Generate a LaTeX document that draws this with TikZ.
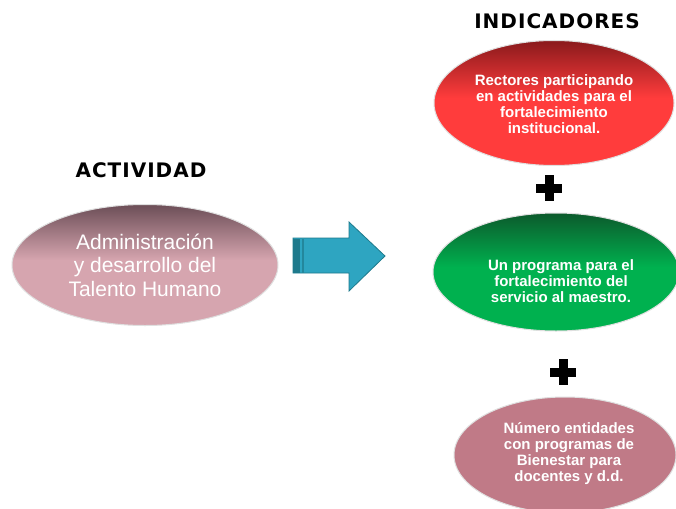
\documentclass[tikz,border=0pt]{standalone}
\usepackage{fontspec}
\setmainfont{Liberation Sans}
\newfontfamily\titlefont[LetterSpace=5]{DejaVu Sans Bold}
\usetikzlibrary{shapes.geometric}
\definecolor{redbody}{HTML}{FF3C3C}
\definecolor{redtop}{HTML}{8A1A1C}
\definecolor{greenbody}{HTML}{00B14F}
\definecolor{greentop}{HTML}{0C5A2C}
\definecolor{pinkbody}{HTML}{D6A5AF}
\definecolor{pinktop}{HTML}{6C4E57}
\definecolor{mauve}{HTML}{C07A87}
\definecolor{arrowbody}{HTML}{2EA5C1}
\definecolor{arrowdark}{HTML}{1E7A8C}
\pgfdeclareverticalshading{redshade}{100bp}{color(0bp)=(redbody); color(25bp)=(redbody); color(52bp)=(redbody); color(75bp)=(redtop); color(100bp)=(redtop)}
\pgfdeclareverticalshading{greenshade}{100bp}{color(0bp)=(greenbody); color(25bp)=(greenbody); color(52bp)=(greenbody); color(75bp)=(greentop); color(100bp)=(greentop)}
\pgfdeclareverticalshading{pinkshade}{100bp}{color(0bp)=(pinkbody); color(25bp)=(pinkbody); color(52bp)=(pinkbody); color(75bp)=(pinktop); color(100bp)=(pinktop)}
\tikzset{
  oval/.style={ellipse, draw=gray!25, line width=1pt, inner sep=0pt, text=white, align=center},
  titletext/.style={font=\titlefont\fontsize{20}{22}\selectfont, text=black},
  indtext/.style={font=\bfseries\fontsize{15}{16}\selectfont, text=white, align=center},
  plusbar/.style={fill=black, draw=none},
}
\begin{document}
\begin{tikzpicture}[x=1pt,y=-1pt]
\useasboundingbox (0,0) rectangle (676,508);
\fill[white] (0,0) rectangle (676,508);
% titles
\node[titletext] (tact) at (141,170) {ACTIVIDAD};
\node[titletext] (tind) at (557,21) {INDICADORES};
% activity ellipse
\node[oval, minimum width=266pt, minimum height=121pt, shading=pinkshade, font=\fontsize{21}{23.5}\selectfont] (act) at (145,265) {Administración\\y desarrollo del\\Talento Humano};
% arrow
\path[fill=arrowbody, draw=arrowdark, line width=0.8pt]
  (293,238) -- (349,238) -- (349,222) -- (385,256) -- (349,291) -- (349,273) -- (293,273) -- cycle;
\fill[arrowdark] (293,238.5) rectangle (300,272.5);
\fill[arrowdark!70!arrowbody] (302,238.5) rectangle (303.5,272.5);
% red ellipse
\node[oval, minimum width=240pt, minimum height=125pt, shading=redshade] (red) at (554,103) {};
\node[indtext] (redt) at (554,104) {Rectores participando\\en actividades para el\\fortalecimiento\\institucional.};
% plus 1
\fill[plusbar] (536,184) rectangle (562,192.5);
\fill[plusbar] (545,175) rectangle (553.5,201);
% green ellipse
\node[oval, minimum width=246pt, minimum height=118pt, shading=greenshade] (green) at (556,272) {};
\node[indtext] (greent) at (561,281) {Un programa para el\\fortalecimiento del\\servicio al maestro.};
% plus 2
\fill[plusbar] (550,368) rectangle (576,376.5);
\fill[plusbar] (559,359) rectangle (567.5,385);
% mauve ellipse
\node[oval, minimum width=222pt, minimum height=116pt, fill=mauve] (mauve) at (565,455) {};
\node[indtext] (mauvet) at (569,454) {Número entidades\\con programas de\\Bienestar para\\docentes y d.d.};
\end{tikzpicture}
\end{document}
